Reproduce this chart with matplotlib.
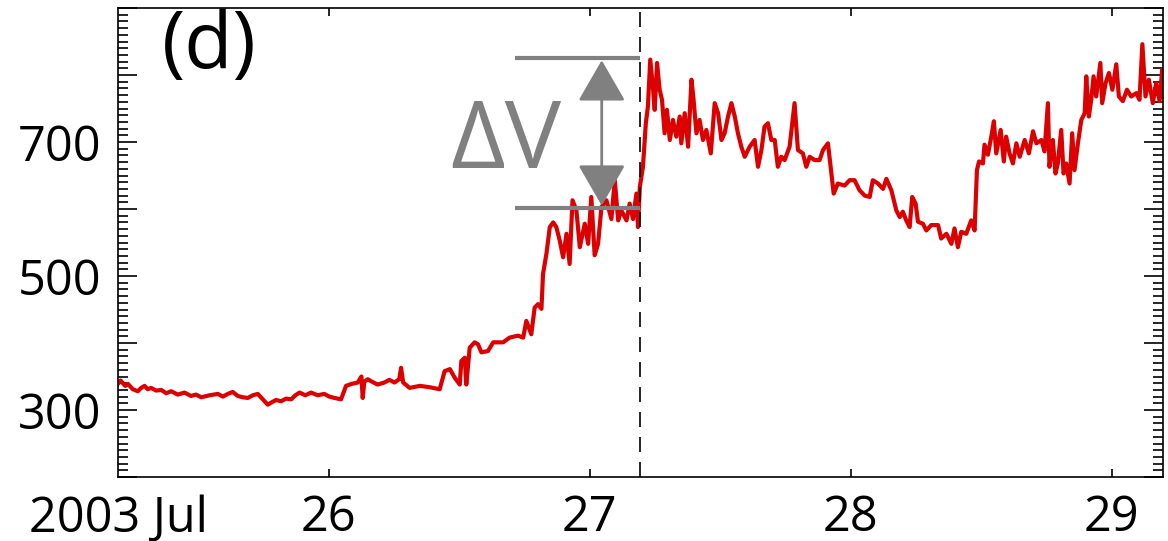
import numpy as np
import matplotlib.pyplot as plt
from matplotlib.ticker import MultipleLocator, FixedLocator, FuncFormatter

plt.rcParams['font.family'] = ['Open Sans', 'DejaVu Sans']

# solar wind speed (km/s), time in decimal days of 2003 July
day_quiet = [25.192, 25.202, 25.211, 25.220, 25.230, 25.249, 25.268, 25.281, 25.294,
             25.306, 25.319, 25.338, 25.358, 25.377, 25.396, 25.421, 25.447, 25.472,
             25.491, 25.511, 25.543, 25.575, 25.594, 25.613, 25.632, 25.651, 25.670,
             25.690, 25.709, 25.728, 25.754, 25.766, 25.779, 25.798, 25.817, 25.836,
             25.856, 25.872, 25.888, 25.910, 25.932, 25.957, 25.983, 26.002, 26.022,
             26.047, 26.066, 26.088, 26.111, 26.125, 26.130, 26.136, 26.149, 26.162,
             26.187, 26.213, 26.232, 26.252, 26.270, 26.277]
v_quiet = [339, 344, 340, 336, 339, 331, 328, 333, 336,
           331, 333, 329, 330, 325, 328, 323, 326, 321,
           323, 319, 322, 324, 320, 324, 327, 321, 319,
           318, 322, 324, 313, 308, 311, 315, 313, 317,
           316, 322, 326, 322, 326, 322, 324, 320, 318,
           316, 336, 339, 341, 350, 318, 342, 346, 343,
           338, 341, 345, 341, 346, 363]

day_ramp = [26.285, 26.310, 26.349, 26.387, 26.425, 26.444, 26.464, 26.483, 26.502,
            26.508, 26.521, 26.527, 26.540, 26.559, 26.572, 26.585, 26.610, 26.630,
            26.668, 26.693, 26.725, 26.745, 26.757, 26.776, 26.789, 26.802, 26.815,
            26.821, 26.834, 26.847, 26.860, 26.872, 26.885, 26.898, 26.911, 26.923,
            26.934, 26.949, 26.962, 26.981, 26.994, 27.006, 27.019, 27.032, 27.045,
            27.064, 27.083, 27.096, 27.109, 27.121, 27.141, 27.153, 27.166, 27.179,
            27.185]
v_ramp = [341, 333, 336, 334, 331, 358, 361, 348, 338,
          373, 378, 338, 393, 401, 398, 386, 388, 401,
          401, 408, 411, 408, 433, 413, 453, 458, 451,
          503, 533, 573, 580, 573, 553, 528, 563, 518,
          613, 598, 543, 578, 548, 618, 531, 548, 603,
          613, 585, 643, 583, 598, 583, 608, 585, 623,
          573]

day_shock = [27.192, 27.204, 27.215, 27.223, 27.232, 27.243, 27.249, 27.258, 27.268,
             27.277, 27.287, 27.296, 27.307, 27.319, 27.332, 27.345, 27.351, 27.364,
             27.377, 27.390, 27.398, 27.409, 27.421, 27.434, 27.447, 27.464, 27.479,
             27.492, 27.505, 27.517, 27.530, 27.543, 27.556, 27.568, 27.581, 27.594,
             27.613, 27.632, 27.645, 27.658, 27.670, 27.683, 27.696, 27.709, 27.721,
             27.734, 27.747, 27.766, 27.785, 27.798, 27.817, 27.830, 27.843, 27.862,
             27.881, 27.894, 27.913, 27.926, 27.935, 27.951, 27.977, 27.996, 28.015,
             28.034, 28.054, 28.073, 28.085, 28.105, 28.124, 28.137, 28.156, 28.175]
v_shock = [633, 663, 728, 753, 823, 778, 748, 818, 778,
           763, 713, 748, 703, 733, 708, 738, 698, 743,
           693, 793, 763, 713, 733, 703, 718, 683, 758,
           743, 703, 713, 738, 758, 738, 713, 693, 678,
           693, 703, 663, 688, 723, 728, 703, 703, 663,
           678, 673, 693, 758, 688, 683, 663, 678, 673,
           673, 688, 698, 653, 623, 638, 635, 643, 643,
           628, 620, 618, 643, 638, 630, 645, 628, 598]

day_late = [28.188, 28.200, 28.213, 28.226, 28.236, 28.249, 28.258, 28.277, 28.290,
            28.309, 28.335, 28.347, 28.367, 28.386, 28.398, 28.411, 28.424, 28.443,
            28.462, 28.475, 28.484, 28.492, 28.507, 28.513, 28.526, 28.539, 28.549,
            28.558, 28.575, 28.587, 28.596, 28.609, 28.622, 28.635, 28.648, 28.667,
            28.683, 28.699, 28.712, 28.731, 28.743, 28.756, 28.762, 28.775, 28.785,
            28.794, 28.807, 28.816, 28.826, 28.839, 28.849, 28.858, 28.871, 28.884,
            28.897, 28.903, 28.913, 28.922, 28.931, 28.941, 28.957, 28.964, 28.977,
            28.990, 29.003, 29.018, 29.028, 29.043, 29.059, 29.075, 29.095, 29.107,
            29.118, 29.130, 29.143, 29.158, 29.171, 29.184, 29.194, 29.199]
v_late = [588, 596, 583, 573, 618, 608, 581, 578, 568,
          576, 576, 556, 563, 548, 571, 543, 566, 563,
          583, 568, 658, 671, 668, 696, 681, 708, 731,
          683, 718, 671, 708, 683, 668, 698, 678, 703,
          683, 716, 698, 703, 686, 758, 663, 703, 653,
          668, 718, 653, 668, 638, 713, 658, 698, 733,
          743, 798, 738, 763, 798, 768, 818, 758, 788,
          803, 778, 816, 768, 761, 778, 768, 773, 763,
          846, 768, 793, 758, 788, 761, 808, 768]

days = np.concatenate([day_quiet, day_ramp, day_shock, day_late])
speed = np.concatenate([v_quiet, v_ramp, v_shock, v_late])

t_start, t_end = 25.192, 29.197
t_shock = 27.192
v_up, v_down = 601, 826     # levels either side of the jump
ytick_labels = {300: '300', 500: '500', 700: '700'}

fig = plt.figure(figsize=(11.68, 5.41), dpi=100)
ax = fig.add_axes([0.101, 0.1183, 0.8947, 0.8669])

ax.plot(days, speed, color='#dc0000', lw=3.0)
ax.axvline(t_shock, color='black', lw=1.2, linestyle=(0, (9, 6)))

# delta-V marker
gray = '#808080'
ax.hlines([v_up, v_down], 26.713, t_shock, colors=gray, lw=3, capstyle='butt')
ax.annotate('', xy=(27.046, v_down - 4), xytext=(27.046, v_up + 4),
            arrowprops=dict(arrowstyle='<|-|>,head_length=26,head_width=15',
                            mutation_scale=1, color=gray, lw=2,
                            shrinkA=0, shrinkB=0))
ax.text(26.678, 661, 'ΔV', color=gray, fontsize=68, ha='center', va='baseline')
ax.text(0.042, 1.0, '(d)', transform=ax.transAxes, fontsize=57,
        ha='left', va='top')

ax.set_xlim(t_start, t_end)
ax.set_ylim(200, 900)

ax.xaxis.set_major_locator(FixedLocator([26, 27, 28, 29]))
ax.xaxis.set_major_formatter(FuncFormatter(lambda x, pos: '%d' % round(x)))
ax.set_xticks([t_start], ['2003 Jul'], minor=True)
ax.yaxis.set_major_locator(MultipleLocator(100))
ax.yaxis.set_minor_locator(MultipleLocator(10))
ax.yaxis.set_major_formatter(FuncFormatter(lambda y, pos: ytick_labels.get(int(round(y)), '')))

ax.tick_params(which='both', direction='in', top=True, right=True, width=1.2,
               labelsize=35, pad=12)
ax.tick_params(axis='y', which='major', length=14)
ax.tick_params(axis='y', which='minor', length=7)
ax.tick_params(axis='x', which='major', length=6)
ax.tick_params(axis='x', which='minor', length=0)
for s in ax.spines.values():
    s.set_linewidth(1.2)

fig.savefig('out.png', dpi=100)
